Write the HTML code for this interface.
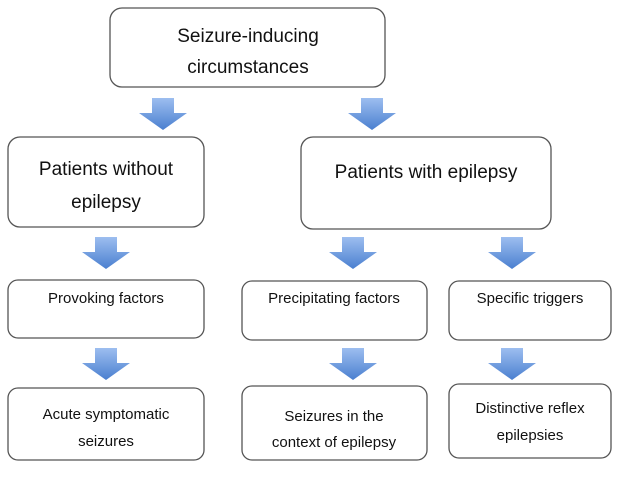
<!DOCTYPE html>
<html><head><meta charset="utf-8"><style>
html,body{margin:0;padding:0;background:#fff;}
svg{display:block;}
text{font-family:"Liberation Sans",sans-serif;fill:#111;text-anchor:middle;}
</style></head><body>
<svg width="628" height="478" viewBox="0 0 628 478" xmlns="http://www.w3.org/2000/svg">
<defs>
<linearGradient id="g" x1="0" y1="0" x2="0" y2="1">
<stop offset="0" stop-color="#9dbef0"/><stop offset="1" stop-color="#4a7fd0"/>
</linearGradient>
<g id="arr"><path d="M-11,0 H11 V15 H24 L0,32 L-24,15 H-11 Z" fill="url(#g)"/></g>
</defs>
<g fill="#fff" stroke="#555" stroke-width="1.3">
<rect x="110" y="8" width="275" height="79" rx="12"/>
<rect x="8" y="137" width="196" height="90" rx="12"/>
<rect x="301" y="137" width="250" height="92" rx="12"/>
<rect x="8" y="280" width="196" height="58" rx="10"/>
<rect x="242" y="281" width="185" height="59" rx="10"/>
<rect x="449" y="281" width="162" height="59" rx="10"/>
<rect x="8" y="388" width="196" height="72" rx="10"/>
<rect x="242" y="386" width="185" height="74" rx="10"/>
<rect x="449" y="384" width="162" height="74" rx="10"/>
</g>
<use href="#arr" x="163" y="98"/>
<use href="#arr" x="372" y="98"/>
<use href="#arr" x="106" y="237"/>
<use href="#arr" x="353" y="237"/>
<use href="#arr" x="512" y="237"/>
<use href="#arr" x="106" y="348"/>
<use href="#arr" x="353" y="348"/>
<use href="#arr" x="512" y="348"/>
<g font-size="19">
<text x="248" y="42">Seizure-inducing</text>
<text x="248" y="73">circumstances</text>
<text x="106" y="175">Patients without</text>
<text x="106" y="208">epilepsy</text>
<text x="426" y="178">Patients with epilepsy</text>
</g>
<g font-size="15">
<text x="106" y="303">Provoking factors</text>
<text x="334" y="303">Precipitating factors</text>
<text x="530" y="303">Specific triggers</text>
<text x="106" y="419">Acute symptomatic</text>
<text x="106" y="446">seizures</text>
<text x="334" y="421">Seizures in the</text>
<text x="334" y="447">context of epilepsy</text>
<text x="530" y="413">Distinctive reflex</text>
<text x="530" y="440">epilepsies</text>
</g>
</svg>
</body></html>
